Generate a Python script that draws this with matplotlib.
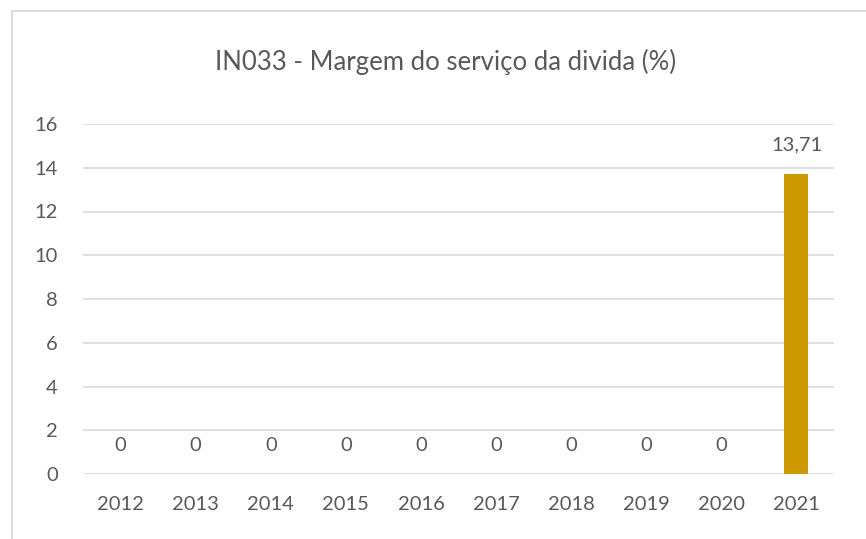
import matplotlib.pyplot as plt
from matplotlib.lines import Line2D

years = ['2012', '2013', '2014', '2015', '2016', '2017', '2018', '2019', '2020', '2021']
values = [0, 0, 0, 0, 0, 0, 0, 0, 0, 13.71]
labels = ['0', '0', '0', '0', '0', '0', '0', '0', '0', '13,71']
yticks = [0, 2, 4, 6, 8, 10, 12, 14, 16]

plt.rcParams['font.family'] = ['Lato', 'DejaVu Sans']
txt = '#595959'
grid = '#d9d9d9'

fig = plt.figure(figsize=(8.66, 5.39), dpi=100)
ax = fig.add_axes([83/866, 65/539, (834-83)/866, 350/539])

x = list(range(len(years)))
ax.bar(x, values, width=0.32, color='#cc9900', zorder=3)
for xi, v, lab in zip(x, values, labels):
    ax.text(xi, v + 1.32, lab, ha='center', va='center', fontsize=14.5, color=txt)

ax.set_xlim(-0.5, 9.5)
ax.set_ylim(0, 16)
ax.set_yticks(yticks)
ax.set_xticks(x)
ax.set_xticklabels(years)
ax.tick_params(length=0, labelsize=14.5, colors=txt)
ax.tick_params(axis='y', pad=18)
ax.tick_params(axis='x', pad=16)
ax.grid(axis='y', color=grid, linewidth=1.2)
ax.set_axisbelow(True)
for s in ax.spines.values():
    s.set_visible(False)

fig.text(446/866, 1 - 62/539, 'IN033 - Margem do serviço da divida (%)',
         ha='center', va='center', fontsize=18.5, color=txt)

# chart frame (only left and top edges visible in the crop)
fig.add_artist(Line2D([12/866, 12/866], [0, 1 - 11/539], color=grid, lw=1.4))
fig.add_artist(Line2D([12/866, 1], [1 - 11/539, 1 - 11/539], color=grid, lw=1.4))

fig.savefig('out.png', dpi=100)
